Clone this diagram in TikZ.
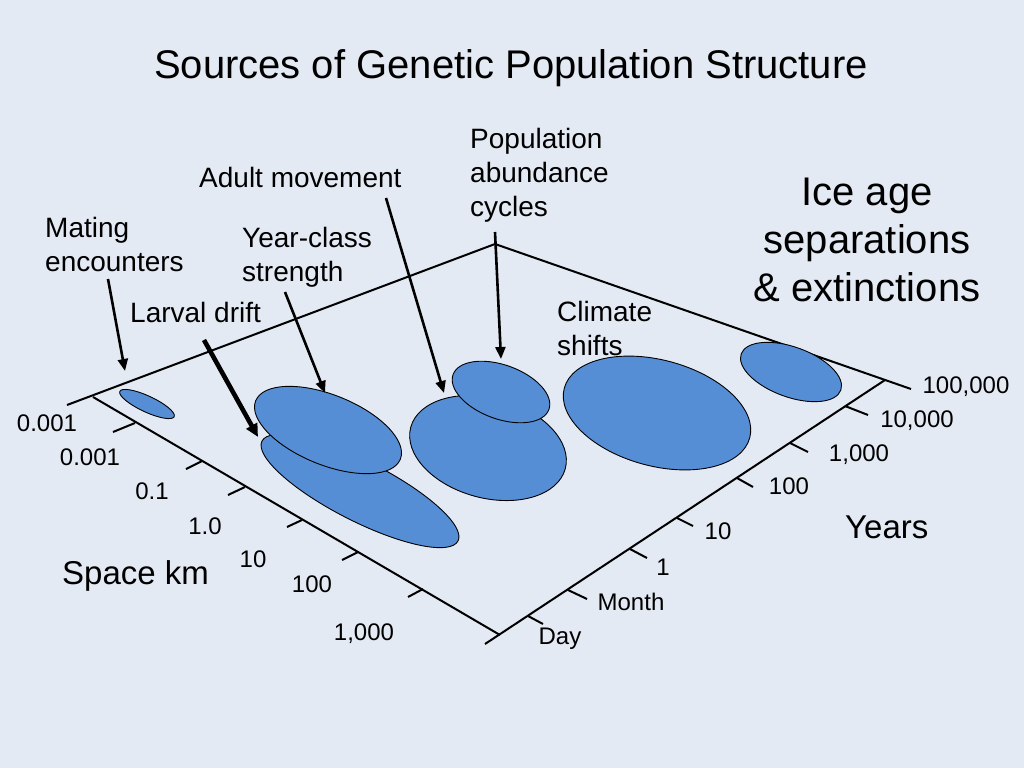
\documentclass[tikz,border=0pt]{standalone}
\usepackage{fontspec}
\setmainfont{Liberation Sans}
\usetikzlibrary{shapes.geometric,arrows.meta}
\definecolor{bgcol}{RGB}{228,234,244}
\definecolor{blobblue}{RGB}{85,142,213}
\tikzset{
  blob/.style={ellipse, draw=black, line width=0.9pt, fill=blobblue, inner sep=0pt},
  axisline/.style={line width=2pt, black},
  arr/.style={line width=2.6pt, black, -{Triangle[length=12pt,width=10pt]}},
  thickarr/.style={line width=4.6pt, black, -{Triangle[length=13pt,width=12pt]}},
  ticklab/.style={inner sep=0pt, font=\fontsize{24}{29}\selectfont},
  lab/.style={inner sep=0pt, align=left, font=\fontsize{28}{34}\selectfont},
  biglab/.style={inner sep=0pt, font=\fontsize{33}{40}\selectfont},
}
\begin{document}
\begin{tikzpicture}[x=1pt,y=-1pt]
\useasboundingbox (0,0) rectangle (1024,768);
\fill[bgcol] (0,0) rectangle (1024,768);

% title
\node[inner sep=0pt, anchor=base, font=\fontsize{40}{48}\selectfont] (title) at (511,78) {Sources of Genetic Population Structure};

% plane corners
\coordinate (L) at (93,397);
\coordinate (T) at (495,244);
\coordinate (R) at (885,380);
\coordinate (F) at (500,635);
\coordinate (Lx) at (67,405);
\coordinate (Rx) at (911,389);
\coordinate (Fx) at (485,644);

% axes and edges
\draw[axisline] (Lx) -- (T) -- (Rx);
\draw[axisline] (L) -- (F);
\draw[axisline] (Fx) -- (R);

% space axis ticks
\draw[axisline] (135,423) -- ++(-22,9);
\draw[axisline] (202,461) -- ++(-16,8);
\draw[axisline] (245,487) -- ++(-17,8);
\draw[axisline] (302,520) -- ++(-15,7);
\draw[axisline] (358,552) -- ++(-16,8);
\draw[axisline] (423,589) -- ++(-15,8);

% years axis ticks
\draw[axisline] (528,616) -- ++(15,8);
\draw[axisline] (568,590) -- ++(19,9);
\draw[axisline] (630,549) -- ++(17,9);
\draw[axisline] (677,518) -- ++(16,8);
\draw[axisline] (737,478) -- ++(16,9);
\draw[axisline] (790,443) -- ++(18,9);
\draw[axisline] (845,406) -- ++(23,9);

% space tick labels
\node[ticklab] (s1) at (47,423) {0.001};
\node[ticklab] (s2) at (90,457) {0.001};
\node[ticklab] (s3) at (152,491) {0.1};
\node[ticklab] (s4) at (205,526) {1.0};
\node[ticklab] (s5) at (253,559) {10};
\node[ticklab] (s6) at (312,584) {100};
\node[ticklab] (s7) at (364,634) {1,000};

% years tick labels
\node[ticklab] (y1) at (560,639) {Day};
\node[ticklab] (y2) at (631,602) {Month};
\node[ticklab] (y3) at (663,567) {1};
\node[ticklab] (y4) at (718,531) {10};
\node[ticklab] (y5) at (789,486) {100};
\node[ticklab] (y6) at (859,455) {1,000};
\node[ticklab] (y7) at (917,421) {10,000};
\node[ticklab] (y8) at (966,387) {100,000};

% axis titles
\node[biglab, anchor=base west] (spacekm) at (62,584) {Space km};
\node[biglab, anchor=base west] (years) at (845,538) {Years};

% ellipses
\node[blob, minimum width=60pt, minimum height=16pt, rotate=-25] (emating) at (147,404) {};
\node[blob, minimum width=220pt, minimum height=60pt, rotate=-27] (elarval) at (360,491) {};
\node[blob, minimum width=156pt, minimum height=70pt, rotate=-22] (eyear) at (328,430) {};
\node[blob, minimum width=160pt, minimum height=100pt, rotate=-15] (eadult) at (488,448) {};
\node[blob, minimum width=102pt, minimum height=54pt, rotate=-20] (epop) at (501,392) {};
\node[blob, minimum width=192pt, minimum height=106pt, rotate=-15] (eclimate) at (657,413) {};
\node[blob, minimum width=106pt, minimum height=50pt, rotate=-20] (eice) at (791,372) {};

% labels
\node[lab, anchor=north west] (mating) at (45,217) {Mating\\encounters};
\node[lab, anchor=base west] (larval) at (130,322) {Larval drift};
\node[lab, anchor=north west] (yearclass) at (242,227) {Year-class\\strength};
\node[lab, anchor=base west] (adult) at (199,187) {Adult movement};
\node[lab, anchor=north west] (pop) at (470,128) {Population\\abundance\\cycles};
\node[lab, anchor=north west] (climate) at (557,301) {Climate\\shifts};
\node[inner sep=0pt, align=center, anchor=north, font=\fontsize{40}{48}\selectfont] (ice) at (867,178) {Ice age\\separations\\\& extinctions};

% arrow endpoints
\coordinate (matS) at (108,279);
\coordinate (matT) at (125,371);
\coordinate (larS) at (204,340);
\coordinate (larT) at (258,437);
\coordinate (yrS) at (285,292);
\coordinate (yrT) at (325,393);
\coordinate (adS) at (386,198);
\coordinate (adT) at (444,393);
\coordinate (popS) at (495,232);
\coordinate (popT) at (501,359);

\draw[arr] (matS) -- (matT);
\draw[thickarr] (larS) -- (larT);
\draw[arr] (yrS) -- (yrT);
\draw[arr] (adS) -- (adT);
\draw[arr] (popS) -- (popT);
\end{tikzpicture}
\end{document}
